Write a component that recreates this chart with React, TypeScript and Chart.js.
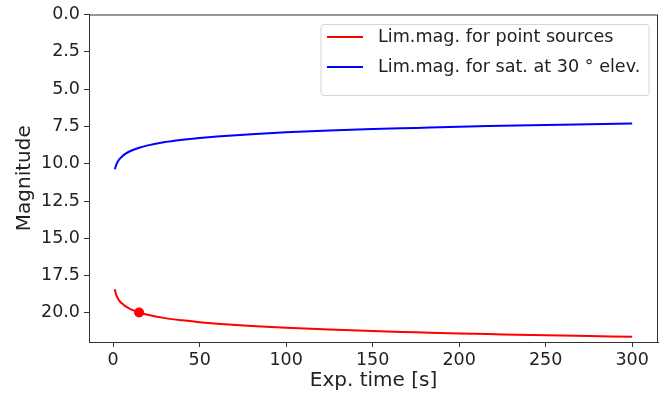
import { useEffect, useRef } from 'react';
import { Chart, registerables } from 'chart.js';
Chart.register(...registerables);

const expTime = [1, 1.5, 2, 3, 4, 5, 7, 10, 15, 20, 30, 40, 50, 60, 80, 100, 125, 150, 175, 200, 225, 250, 275, 300];
const pointMag = [18.42, 18.68, 18.86, 19.08, 19.24, 19.36, 19.55, 19.75, 19.97, 20.13, 20.35, 20.5, 20.62, 20.72, 20.88, 21.0, 21.12, 21.22, 21.3, 21.38, 21.44, 21.5, 21.55, 21.6];
const satMag = [10.37, 10.17, 10.02, 9.8, 9.65, 9.53, 9.34, 9.15, 8.93, 8.77, 8.55, 8.4, 8.28, 8.18, 8.02, 7.9, 7.78, 7.68, 7.6, 7.52, 7.46, 7.4, 7.35, 7.3];
const markerTime = [15];
const markerMag = [19.97];
const xTicks = [0, 50, 100, 150, 200, 250, 300];
const yTicks = [0, 2.5, 5, 7.5, 10, 12.5, 15, 17.5, 20];
const legendLabels = ['Lim.mag. for point sources', 'Lim.mag. for sat. at 30 ° elev.'];
const lineColors = ['#ff0000', '#0000ff'];

const FONT = "'DejaVu Sans', sans-serif";
const TEXT = '#222';
const AXIS = '#333';

const framePlugin = {
  id: 'frame',
  afterDraw(chart: any) {
    const { ctx, chartArea: a } = chart;
    ctx.save();
    ctx.strokeStyle = AXIS;
    ctx.lineWidth = 1;
    ctx.strokeRect(a.left + 0.5, a.top + 0.5, a.right - a.left - 1, a.bottom - a.top);
    // legend box
    const bx = a.right - 337;
    const by = a.top + 10;
    const bw = 328;
    const bh = 71;
    const r = 3;
    ctx.beginPath();
    ctx.moveTo(bx + r, by);
    ctx.lineTo(bx + bw - r, by);
    ctx.quadraticCurveTo(bx + bw, by, bx + bw, by + r);
    ctx.lineTo(bx + bw, by + bh - r);
    ctx.quadraticCurveTo(bx + bw, by + bh, bx + bw - r, by + bh);
    ctx.lineTo(bx + r, by + bh);
    ctx.quadraticCurveTo(bx, by + bh, bx, by + bh - r);
    ctx.lineTo(bx, by + r);
    ctx.quadraticCurveTo(bx, by, bx + r, by);
    ctx.closePath();
    ctx.fillStyle = 'rgba(255,255,255,0.8)';
    ctx.fill();
    ctx.strokeStyle = '#d6d6d6';
    ctx.stroke();
    ctx.font = `17.6px ${FONT}`;
    ctx.textBaseline = 'middle';
    ctx.textAlign = 'left';
    legendLabels.forEach((lab, i) => {
      const y = by + 12.5 + i * 30;
      ctx.strokeStyle = lineColors[i];
      ctx.lineWidth = 2;
      ctx.beginPath();
      ctx.moveTo(bx + 6, y);
      ctx.lineTo(bx + 42, y);
      ctx.stroke();
      ctx.fillStyle = TEXT;
      ctx.fillText(lab, bx + 57, y);
    });
    ctx.restore();
  },
};

export default function App() {
  const ref = useRef<HTMLCanvasElement>(null);
  useEffect(() => {
    document.body.style.margin = '0';
    const chart = new Chart(ref.current as HTMLCanvasElement, {
      type: 'scatter',
      data: {
        datasets: [
          {
            label: legendLabels[0],
            data: expTime.map((t, i) => ({ x: t, y: pointMag[i] })),
            showLine: true,
            borderColor: lineColors[0],
            borderWidth: 2,
            pointRadius: 0,
            cubicInterpolationMode: 'monotone',
          } as any,
          {
            label: legendLabels[1],
            data: expTime.map((t, i) => ({ x: t, y: satMag[i] })),
            showLine: true,
            borderColor: lineColors[1],
            borderWidth: 2,
            pointRadius: 0,
            cubicInterpolationMode: 'monotone',
          } as any,
          {
            label: 'marker',
            data: markerTime.map((t, i) => ({ x: t, y: markerMag[i] })),
            showLine: false,
            pointRadius: 5,
            backgroundColor: lineColors[0],
            borderWidth: 0,
          } as any,
        ],
      },
      options: {
        animation: false,
        responsive: false,
        devicePixelRatio: 1,
        layout: { padding: { top: 12, right: 12, left: 0, bottom: 0 } },
        plugins: { legend: { display: false }, tooltip: { enabled: false } },
        scales: {
          x: {
            type: 'linear',
            min: -13.95,
            max: 314.95,
            afterBuildTicks: (s: any) => {
              s.ticks = xTicks.map((value) => ({ value }));
            },
            afterFit: (s: any) => {
              s.height = 56;
            },
            grid: { display: true, drawOnChartArea: false, drawTicks: true, tickLength: 5, color: AXIS },
            border: { display: true, color: AXIS, width: 1 },
            ticks: { color: TEXT, font: { family: FONT, size: 17.5 }, padding: 3, maxRotation: 0, autoSkip: false },
            title: { display: true, text: 'Exp. time [s]', color: TEXT, font: { family: FONT, size: 20 }, padding: { top: 0, bottom: 5 } },
          },
          y: {
            type: 'linear',
            reverse: true,
            min: 0,
            max: 21.95,
            afterBuildTicks: (s: any) => {
              s.ticks = yTicks.map((value) => ({ value }));
            },
            afterFit: (s: any) => {
              s.width = 89;
            },
            grid: { display: true, drawOnChartArea: false, drawTicks: true, tickLength: 5, color: AXIS },
            border: { display: true, color: AXIS, width: 1 },
            ticks: {
              color: TEXT,
              font: { family: FONT, size: 17.5 },
              padding: 4,
              autoSkip: false,
              callback: (v: any) => Number(v).toFixed(1),
            },
            title: { display: true, text: 'Magnitude', color: TEXT, font: { family: FONT, size: 20 }, padding: { top: 13, bottom: 0 } },
          },
        },
      },
      plugins: [framePlugin],
    });
    return () => chart.destroy();
  }, []);
  return (
    <div style={{ position: 'absolute', left: 0, top: 0, width: 670, height: 398 }}>
      <canvas ref={ref} width={670} height={398} style={{ display: 'block', width: 670, height: 398 }} />
    </div>
  );
}
